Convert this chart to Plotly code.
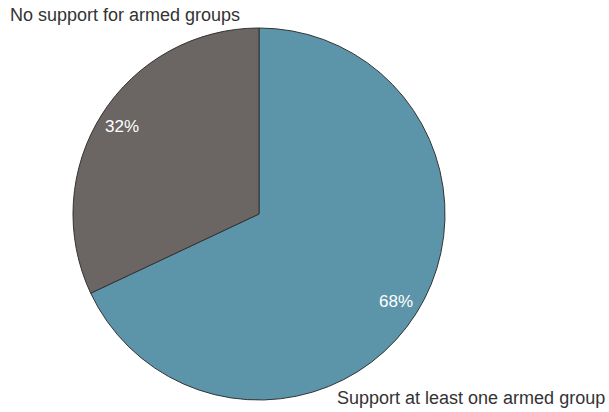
import math
import plotly.graph_objects as go

labels = ["Support at least one armed group", "No support for armed groups"]
values = [68, 32]
colors = ["#5c95aa", "#6b6563"]

W, H = 609, 412
cx, cy, r = 259, 198, 186  # center (from bottom) and radius in px

fig = go.Figure(go.Pie(
    labels=labels, values=values, sort=False, direction="clockwise", rotation=0,
    marker=dict(colors=colors, line=dict(color="#333333", width=1)),
    textinfo="none", hoverinfo="label+percent", showlegend=False,
    domain=dict(x=[(cx - r) / W, (cx + r) / W], y=[(cy - r) / H, (cy + r) / H]),
))

annotations = []
total = sum(values)
cum = 0
for v in values:
    mid = (cum + v / 2) / total * 2 * math.pi
    cum += v
    x = (cx + 0.875 * r * math.sin(mid)) / W
    y = (cy + 0.875 * r * math.cos(mid)) / H
    annotations.append(dict(x=x, y=y, xref="paper", yref="paper", showarrow=False,
                            xanchor="center", yanchor="middle",
                            text=f"{round(v / total * 100)}%",
                            font=dict(color="white", size=17)))

annotations.append(dict(x=8 / W, y=(H - 15) / H, xref="paper", yref="paper", showarrow=False,
                        xanchor="left", yanchor="middle", text=labels[1],
                        font=dict(color="#333333", size=18)))
annotations.append(dict(x=607 / W, y=(H - 398) / H, xref="paper", yref="paper", showarrow=False,
                        xanchor="right", yanchor="middle", text=labels[0],
                        font=dict(color="#333333", size=18)))

fig.update_layout(
    width=W, height=H, margin=dict(l=0, r=0, t=0, b=0),
    paper_bgcolor="white", plot_bgcolor="white",
    font=dict(family="Liberation Sans, Arial, sans-serif", size=18, color="#333333"),
    annotations=annotations,
)
fig.write_html("out.html", config={"displayModeBar": False},
               post_script="document.body.style.margin='0';")
